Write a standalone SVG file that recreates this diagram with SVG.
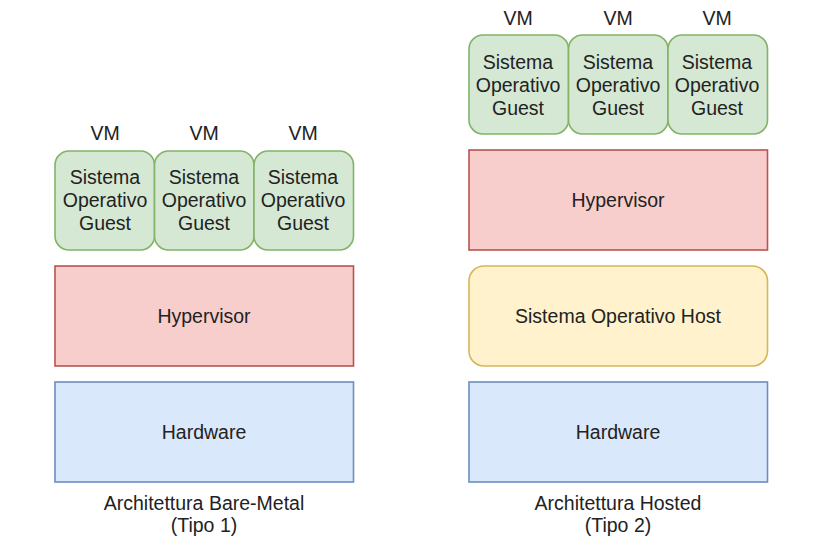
<svg xmlns="http://www.w3.org/2000/svg" width="823" height="545" viewBox="0 0 823 545">
<style>
text{font-family:"Liberation Sans",Arial,sans-serif;font-size:19.5px;fill:#222;text-anchor:middle}
.g{fill:#d5e8d4;stroke:#82b366;stroke-width:1.6}
.r{fill:#f8cecc;stroke:#b85450;stroke-width:1.6}
.b{fill:#dae8fc;stroke:#6c8ebf;stroke-width:1.6}
.y{fill:#fff2cc;stroke:#d6b656;stroke-width:1.6}
</style>
<rect width="823" height="545" fill="#fff"/>
<g id="left-vm1"><text x="105" y="140">VM</text><rect class="g" x="55" y="151" width="99.5" height="99" rx="14"/><text x="105" y="184">Sistema</text><text x="105" y="207">Operativo</text><text x="105" y="230">Guest</text></g>
<g id="left-vm2"><text x="204" y="140">VM</text><rect class="g" x="154.5" y="151" width="99.5" height="99" rx="14"/><text x="204" y="184">Sistema</text><text x="204" y="207">Operativo</text><text x="204" y="230">Guest</text></g>
<g id="left-vm3"><text x="303" y="140">VM</text><rect class="g" x="254" y="151" width="99.5" height="99" rx="14"/><text x="303" y="184">Sistema</text><text x="303" y="207">Operativo</text><text x="303" y="230">Guest</text></g>
<g id="left-hypervisor"><rect class="r" x="55" y="266" width="298.5" height="100"/><text x="204" y="323">Hypervisor</text></g>
<g id="left-hardware"><rect class="b" x="55" y="382" width="298.5" height="100"/><text x="204" y="439">Hardware</text></g>
<g id="left-label"><text x="204" y="510">Architettura Bare-Metal</text><text x="204" y="532">(Tipo 1)</text></g>
<g id="right-vm1"><text x="518" y="25">VM</text><rect class="g" x="469" y="35" width="99.5" height="99" rx="14"/><text x="518" y="69">Sistema</text><text x="518" y="92">Operativo</text><text x="518" y="115">Guest</text></g>
<g id="right-vm2"><text x="618" y="25">VM</text><rect class="g" x="568.5" y="35" width="99.5" height="99" rx="14"/><text x="618" y="69">Sistema</text><text x="618" y="92">Operativo</text><text x="618" y="115">Guest</text></g>
<g id="right-vm3"><text x="717" y="25">VM</text><rect class="g" x="668" y="35" width="99.5" height="99" rx="14"/><text x="717" y="69">Sistema</text><text x="717" y="92">Operativo</text><text x="717" y="115">Guest</text></g>
<g id="right-hypervisor"><rect class="r" x="469" y="150" width="298.5" height="100"/><text x="618" y="207">Hypervisor</text></g>
<g id="right-host"><rect class="y" x="469" y="266" width="298.5" height="100" rx="15"/><text x="618" y="323">Sistema Operativo Host</text></g>
<g id="right-hardware"><rect class="b" x="469" y="382" width="298.5" height="100"/><text x="618" y="439">Hardware</text></g>
<g id="right-label"><text x="618" y="510">Architettura Hosted</text><text x="618" y="532">(Tipo 2)</text></g>
<g id="connectors"></g>
</svg>
